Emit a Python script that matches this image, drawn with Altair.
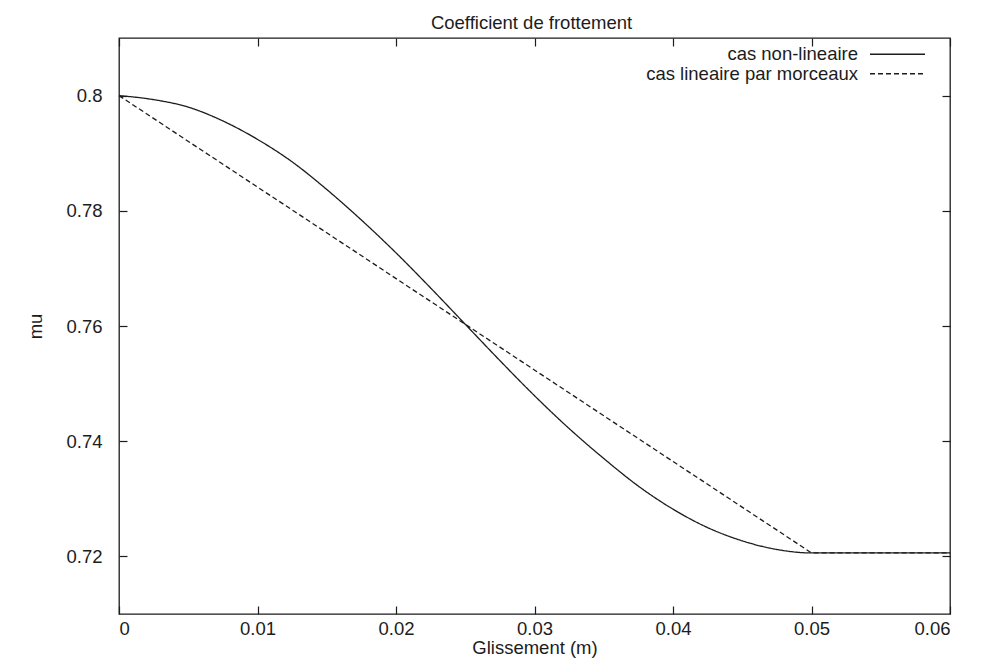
import altair as alt
import pandas as pd

# --- data ---
series_names = ["cas non-lineaire", "cas lineaire par morceaux"]

slip_nl = [0.0, 0.0025, 0.005, 0.0075, 0.01, 0.0125, 0.015, 0.0175, 0.02,
           0.0225, 0.025, 0.0275, 0.03, 0.0325, 0.035, 0.0375, 0.04,
           0.0425, 0.045, 0.0475, 0.05, 0.06]
mu_nl = [0.8000, 0.7993, 0.7980, 0.7956, 0.7924, 0.7885, 0.7837, 0.7784,
         0.7727, 0.7666, 0.7603, 0.7540, 0.7479, 0.7422, 0.7370, 0.7322,
         0.7282, 0.7250, 0.7227, 0.7212, 0.7206, 0.7206]

slip_lin = [0.0, 0.05, 0.06]
mu_lin = [0.8, 0.7206, 0.7206]

x_ticks = [0, 0.01, 0.02, 0.03, 0.04, 0.05, 0.06]
y_ticks = [0.72, 0.74, 0.76, 0.78, 0.80]

df_nl = pd.DataFrame({"slip": slip_nl, "mu": mu_nl, "serie": series_names[0]})
df_lin = pd.DataFrame({"slip": slip_lin, "mu": mu_lin, "serie": series_names[1]})

FONT = "Liberation Sans"
FS = 18.5
INK = "#1c1c1c"
TICK = 8

xscale = alt.Scale(domain=[0, 0.06], nice=False, zero=False)
yscale = alt.Scale(domain=[0.71, 0.81], nice=False, zero=False)

legend = alt.Legend(
    title=None, orient="none", legendX=769.25, legendY=7.0,
    symbolType="M-5,0H5", symbolSize=121, symbolStrokeWidth=1.3,
    symbolStrokeColor=INK, symbolFillColor="transparent",
    labelAlign="right", labelOffset={"expr": "-48.75"},
    rowPadding=0.5, padding=0,
    labelFont=FONT, labelFontSize=FS, labelColor=INK, labelLimit=400,
)
dash = alt.StrokeDash(
    "serie:N",
    scale=alt.Scale(domain=series_names, range=[[1, 0], [5, 3]]),
    legend=legend,
)

nl_layer = alt.Chart(df_nl).mark_line(
    interpolate="monotone", color=INK, strokeWidth=1.3
).encode(
    x=alt.X("slip:Q", scale=xscale, axis=alt.Axis(
        orient="bottom", values=x_ticks, format=".2~f", title="Glissement (m)",
        domain=False, grid=False, tickSize=TICK, offset=-TICK,
        labelPadding=5, titlePadding=1)),
    y=alt.Y("mu:Q", scale=yscale, axis=alt.Axis(
        orient="left", values=y_ticks, format=".2~f", title="mu",
        domain=False, grid=False, tickSize=TICK, offset=-TICK,
        labelPadding=17, titlePadding=20)),
    strokeDash=dash,
)

lin_layer = alt.Chart(df_lin).mark_line(
    color=INK, strokeWidth=1.3
).encode(
    x=alt.X("slip:Q", scale=xscale, axis=alt.Axis(
        orient="top", values=x_ticks, labels=False, title=None,
        domain=False, grid=False, tickSize=TICK, offset=-TICK)),
    y=alt.Y("mu:Q", scale=yscale, axis=alt.Axis(
        orient="right", values=y_ticks, labels=False, title=None,
        domain=False, grid=False, tickSize=TICK, offset=-TICK)),
    strokeDash=dash,
)

chart = alt.layer(nl_layer, lin_layer).resolve_scale(
    x="independent", y="independent"
).properties(
    width=831, height=576,
    padding={"left": 111, "top": 30, "right": 20, "bottom": 44},
    autosize=alt.AutoSizeParams(type="none"),
    title=alt.Title("Coefficient de frottement", font=FONT, fontSize=FS,
                    fontWeight="normal", color=INK, anchor="middle",
                    baseline="alphabetic", offset=9, dx=-3, dy=19),
).configure_view(
    stroke=INK, strokeWidth=1.3
).configure_axis(
    labelFont=FONT, labelFontSize=FS, labelColor=INK,
    titleFont=FONT, titleFontSize=FS, titleFontWeight="normal", titleColor=INK,
    tickColor=INK, tickWidth=1.2,
)

chart.save("out.html", embed_options={"renderer": "svg", "actions": False})
